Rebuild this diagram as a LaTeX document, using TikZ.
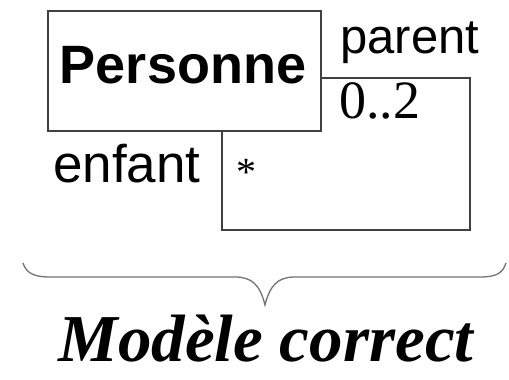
\documentclass[tikz,border=0pt]{standalone}
\usepackage{fontspec}
\setmainfont{Liberation Serif}
\setsansfont{Liberation Sans}
\usetikzlibrary{calc}
\begin{document}
\begin{tikzpicture}[x=1pt,y=-1pt,
  line/.style={draw=black!75,line width=1.7pt},
  sanslabel/.style={font=\sffamily\fontsize{49}{49}\selectfont,inner sep=0pt,anchor=base west},
  mult/.style={font=\rmfamily\fontsize{54}{54}\selectfont,inner sep=0pt,anchor=base west}]
  \useasboundingbox (0,0) rectangle (509,380);
  % class box
  \node[line,minimum width=273pt,minimum height=120pt,inner sep=0pt] (pers) at (184.5,71) {};
  \node[font=\sffamily\bfseries\fontsize{54}{54}\selectfont,inner sep=0pt,anchor=base] (name) at (183,83) {Personne};
  % reflexive association
  \coordinate (from) at (pers.east |- 0,78);
  \coordinate (to) at (pers.south -| 222,0);
  \coordinate (c1) at (470,78);
  \coordinate (c2) at (470,230);
  \coordinate (c3) at (222,230);
  \draw[line] (from) -- (c1) -- (c2) -- (c3) -- (to);
  % role names and multiplicities
  \node[sanslabel] (parent) at (340,53) {parent};
  \node[mult] (mparent) at (339,118) {0..2};
  \node[sanslabel,font=\sffamily\fontsize{53}{53}\selectfont] (enfant) at (53,182) {enfant};
  \node[font=\rmfamily\fontsize{40}{40}\selectfont,inner sep=0pt,anchor=base west] (star) at (236,185) {*};
  % brace underneath
  \coordinate (bl) at (23,263);
  \coordinate (br) at (506,263);
  \coordinate (tip) at (265,305);
  \draw[draw=black!55,line width=1.3pt]
    (bl) .. controls (26,272) and (32,277) .. (50,277)
    -- (235,277) .. controls (252,277) and (260,285) .. (tip)
    .. controls (270,285) and (278,277) .. (295,277)
    -- (480,277) .. controls (498,277) and (503,272) .. (br);
  % caption
  \node[font=\rmfamily\bfseries\itshape\fontsize{67}{67}\selectfont,inner sep=0pt,anchor=base] (cap) at (266,361) {Modèle correct};
\end{tikzpicture}
\end{document}
